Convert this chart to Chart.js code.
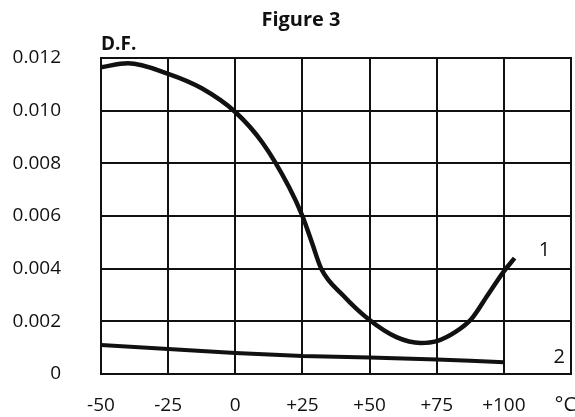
<!DOCTYPE html>
<html>
<head>
<meta charset="utf-8">
<script src="https://cdn.jsdelivr.net/npm/chart.js@4"></script>
<style>
html, body { margin:0; padding:0; background:#fff; overflow:hidden; }
#wrap { width:575px; height:417px; }
</style>
</head>
<body>
<div id="wrap"><canvas id="grafico"></canvas></div>
<script>

// ================================
// DATOS
// ================================

const temps1 = [-50,-40,-25,-12.5,0,10,20,25,28.5,32,40,50,60,69,75,82,88,94,100,104];
const df1 = [0.01165,0.0118,0.0114,0.01085,0.00995,0.0088,0.0071,0.0060,0.0050,0.0040,0.0030,0.00205,0.0014,0.00118,0.00125,0.0016,0.0021,0.0030,0.0039,0.0044];

const temps2 = [-50,-25,0,25,50,75,100];
const df2 = [0.0011,0.00095,0.0008,0.00068,0.00063,0.00055,0.00045];

const xTicks = [-50,-25,0,25,50,75,100,125];
const yTicks = [0,0.002,0.004,0.006,0.008,0.010,0.012];

const fuente = "'Open Sans', 'Noto Sans', sans-serif";

// texto extra: titulo, D.F., °C y numeros de curva
const textos = {
    id: "textos",
    afterDraw(chart){
        const c = chart.ctx;
        const x = chart.scales.x;
        const y = chart.scales.y;
        c.save();
        c.fillStyle = "#111";
        c.textBaseline = "middle";

        c.font = "bold 20px " + fuente;
        c.textAlign = "center";
        c.fillText("Figure 3", 301, 20);

        c.font = "bold 19px " + fuente;
        c.textAlign = "left";
        c.fillText("D.F.", chart.chartArea.left, 45);

        c.font = "20px " + fuente;
        c.fillText("1", x.getPixelForValue(113), y.getPixelForValue(0.0047));
        c.fillText("2", x.getPixelForValue(118.5), y.getPixelForValue(0.00065));

        c.textAlign = "right";
        c.fillText("°C", 576, 405);
        c.restore();
    }
};

const ctx =
document.getElementById("grafico");

const grafico = new Chart(ctx, {

    type: "line",

    data: {
        datasets: [
            {
                label: "1",
                data: temps1.map((t,i) => ({x:t, y:df1[i]})),
                borderColor: "#111",
                borderWidth: 4.5,
                pointRadius: 0,
                cubicInterpolationMode: "monotone",
                fill: false
            },
            {
                label: "2",
                data: temps2.map((t,i) => ({x:t, y:df2[i]})),
                borderColor: "#111",
                borderWidth: 4,
                pointRadius: 0,
                tension: 0.2,
                fill: false
            }
        ]
    },

    options: {
        responsive: true,
        maintainAspectRatio: false,
        animation: false,
        layout: { padding: { top: 58, right: 4, bottom: 0, left: 0 } },
        plugins: {
            legend: { display: false },
            tooltip: { enabled: false }
        },
        scales: {
            x: {
                type: "linear",
                min: -50,
                max: 125,
                afterBuildTicks: s => { s.ticks = xTicks.map(v => ({value:v})); },
                afterFit: s => { s.height = 43; s.paddingRight = 0; s.paddingLeft = 0; },
                grid: { color: "#111", lineWidth: 2, drawTicks: false },
                border: { color: "#111", width: 2 },
                ticks: {
                    color: "#111",
                    font: { family: fuente, size: 19 },
                    padding: 20,
                    maxRotation: 0,
                    autoSkip: false,
                    callback: v => v === 125 ? "" : (v > 0 ? "+" + v : "" + v)
                }
            },
            y: {
                min: 0,
                max: 0.012,
                afterBuildTicks: s => { s.ticks = yTicks.map(v => ({value:v})); },
                afterFit: s => { s.width = 101; s.paddingTop = 0; s.paddingBottom = 0; },
                grid: { color: "#111", lineWidth: 2, drawTicks: false },
                border: { color: "#111", width: 2 },
                ticks: {
                    color: "#111",
                    font: { family: fuente, size: 19 },
                    padding: 40,
                    autoSkip: false,
                    callback: v => v === 0 ? "0" : v.toFixed(3)
                }
            },
            // solo para el borde derecho del recuadro
            borde: {
                position: "right",
                min: 0,
                max: 0.012,
                afterFit: s => { s.width = 0; s.paddingTop = 0; s.paddingBottom = 0; },
                grid: { display: false },
                ticks: { display: false },
                border: { color: "#111", width: 2 }
            }
        }
    },

    plugins: [textos]
});

</script>
</body>
</html>
